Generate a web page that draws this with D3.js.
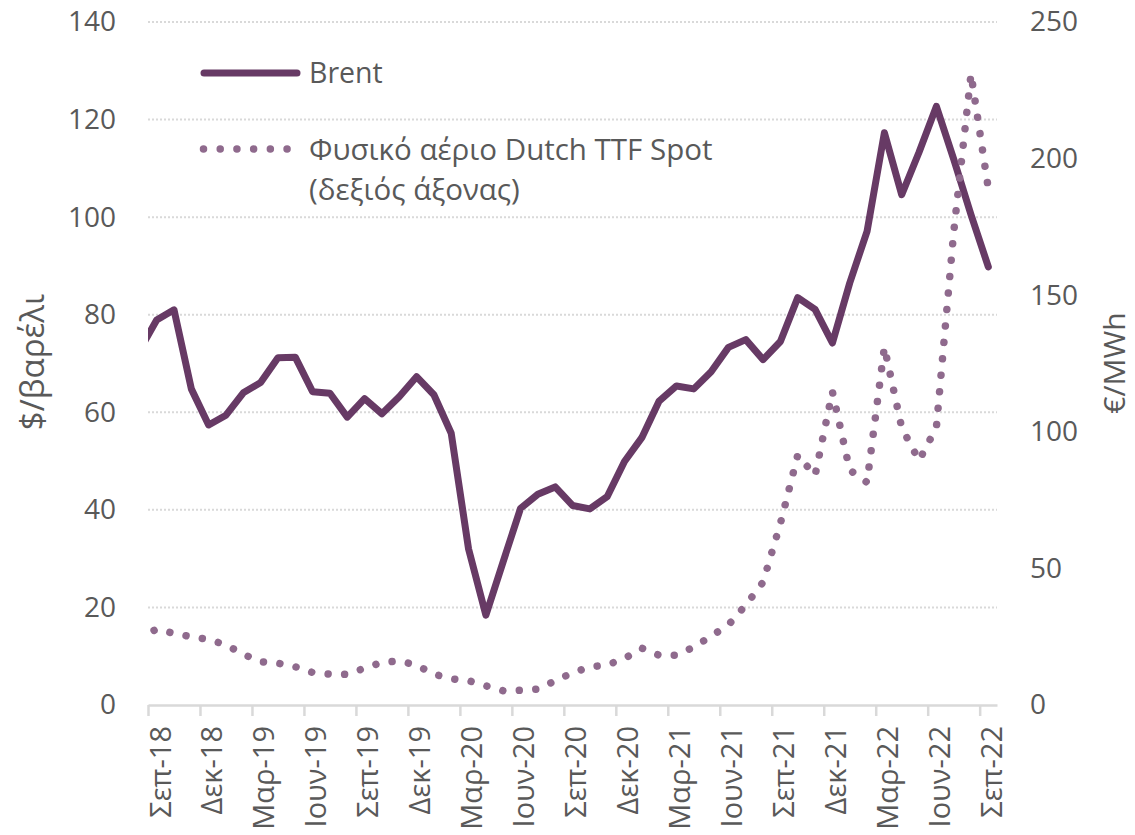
<!DOCTYPE html>
<html lang="el">
<head>
    <meta charset="UTF-8">
    <title>Brent και TTF</title>
    <style>
        body { margin: 0; background: #fff; }
        svg text { font-family: "Open Sans", "Noto Sans", sans-serif; fill: #595959; }
    </style>
</head>
<body>
<svg></svg>
<script src="https://d3js.org/d3.v7.min.js"></script>
<script>
    /* data: monthly averages, Aug-18 .. Sep-22 (first value sits just left of the plot) */
    const brent = [72.6, 78.9, 81.0, 64.8, 57.4,
        59.4, 64.0, 66.1, 71.2, 71.3, 64.2, 63.9, 59.0, 62.8, 59.7, 63.2, 67.3,
        63.6, 55.7, 32.0, 18.4, 29.4, 40.3, 43.2, 44.7, 40.9, 40.2, 42.7, 49.9,
        54.8, 62.3, 65.4, 64.8, 68.3, 73.3, 74.9, 70.8, 74.5, 83.5, 81.1, 74.2,
        86.5, 97.1, 117.3, 104.6, 113.3, 122.7, 111.9, 100.5, 89.8];
    const ttf = [24.6, 27.8, 26.2, 25.0, 24.0,
        22.0, 18.6, 15.8, 15.3, 14.0, 11.9, 11.3, 11.2, 13.5, 15.6, 16.1, 14.6,
        11.3, 9.6, 8.9, 7.0, 5.2, 5.4, 5.8, 8.9, 11.8, 13.9, 14.7, 17.0,
        20.8, 18.2, 18.2, 21.2, 25.2, 29.3, 36.6, 45.0, 66.5, 91.5, 84.0, 114.7,
        86.0, 81.5, 131.0, 101.5, 89.5, 101.5, 173.0, 231.0, 189.0];
    const tickLabels = ["Σεπ-18", "Δεκ-18", "Μαρ-19", "Ιουν-19", "Σεπ-19", "Δεκ-19",
        "Μαρ-20", "Ιουν-20", "Σεπ-20", "Δεκ-20", "Μαρ-21", "Ιουν-21",
        "Σεπ-21", "Δεκ-21", "Μαρ-22", "Ιουν-22", "Σεπ-22"];
    const leftTicks = [0, 20, 40, 60, 80, 100, 120, 140];
    const rightTicks = [0, 50, 100, 150, 200, 250];
    const seriesNames = ["Brent", "Φυσικό αέριο Dutch TTF Spot", "(δεξιός άξονας)"];

    /* layout */
    const width = 1135;
    const height = 835;
    const plotLeft = 148, plotRight = 997, plotTop = 22, plotBottom = 705;
    const firstOffset = -1; // index of first value relative to Sep-18
    const brentColor = "#673a65";
    const ttfColor = "#8f6a8d";
    const gridColor = "#d9d9d9";

    const svg = d3.select("svg")
        .attr("width", width)
        .attr("height", height);

    const x = d3.scaleLinear().domain([0, 49]).range([plotLeft, plotRight]);
    const yL = d3.scaleLinear().domain([0, 140]).range([plotBottom, plotTop]);
    const yR = d3.scaleLinear().domain([0, 250]).range([plotBottom, plotTop]);

    svg.append("clipPath").attr("id", "plot")
        .append("rect")
        .attr("x", plotLeft).attr("y", 0)
        .attr("width", plotRight - plotLeft).attr("height", height);

    /* gridlines */
    svg.selectAll(".grid").data(leftTicks.filter(d => d > 0)).enter().append("line")
        .attr("x1", plotLeft).attr("x2", plotRight)
        .attr("y1", d => yL(d)).attr("y2", d => yL(d))
        .attr("stroke", gridColor)
        .attr("stroke-width", 2)
        .attr("stroke-dasharray", "2,2");

    /* x axis */
    const xAxis = d3.axisBottom(x)
        .tickValues(tickLabels.map((d, i) => i * 3))
        .tickFormat((d, i) => tickLabels[i])
        .tickSize(11)
        .tickSizeOuter(0);
    const gx = svg.append("g")
        .attr("transform", `translate(0,${plotBottom})`)
        .call(xAxis);
    gx.select(".domain").attr("stroke", gridColor).attr("stroke-width", 2.5);
    gx.selectAll(".tick line").attr("stroke", gridColor).attr("stroke-width", 2.5);
    gx.selectAll(".tick text")
        .attr("transform", "rotate(-90)")
        .attr("text-anchor", "end")
        .attr("x", -21)
        .attr("y", 22)
        .attr("dy", 0)
        .style("font-size", "29px");

    /* left axis */
    const gyl = svg.append("g")
        .attr("transform", `translate(${plotLeft},0)`)
        .call(d3.axisLeft(yL).tickValues(leftTicks).tickSize(0).tickPadding(32));
    gyl.select(".domain").remove();
    gyl.selectAll("text").style("font-size", "28px");

    /* right axis */
    const gyr = svg.append("g")
        .attr("transform", `translate(${plotRight},0)`)
        .call(d3.axisRight(yR).tickValues(rightTicks).tickSize(0).tickPadding(33));
    gyr.select(".domain").remove();
    gyr.selectAll("text").style("font-size", "28px");

    /* axis titles */
    svg.append("text")
        .attr("transform", "translate(31,362) rotate(-90)")
        .attr("text-anchor", "middle")
        .attr("dominant-baseline", "central")
        .style("font-size", "33px")
        .text("$/βαρέλι");
    svg.append("text")
        .attr("transform", "translate(1113,363) rotate(-90)")
        .attr("text-anchor", "middle")
        .attr("dominant-baseline", "central")
        .style("font-size", "30px")
        .text("€/MWh");

    /* series */
    const lineL = d3.line()
        .x((d, i) => x(i + firstOffset + 0.5))
        .y(d => yL(d));
    const lineR = d3.line()
        .x((d, i) => x(i + firstOffset + 0.5))
        .y(d => yR(d));

    const plot = svg.append("g").attr("clip-path", "url(#plot)");
    plot.append("path")
        .datum(brent)
        .attr("d", lineL)
        .attr("fill", "none")
        .attr("stroke", brentColor)
        .attr("stroke-width", 7)
        .attr("stroke-linejoin", "round")
        .attr("stroke-linecap", "round");
    plot.append("path")
        .datum(ttf)
        .attr("d", lineR)
        .attr("fill", "none")
        .attr("stroke", ttfColor)
        .attr("stroke-width", 7.5)
        .attr("stroke-linecap", "round")
        .attr("stroke-dasharray", "0.01,16.5");

    /* legend */
    const legend = svg.append("g");
    legend.append("line")
        .attr("x1", 204).attr("x2", 297)
        .attr("y1", 73).attr("y2", 73)
        .attr("stroke", brentColor)
        .attr("stroke-width", 7)
        .attr("stroke-linecap", "round");
    legend.append("text")
        .attr("x", 309).attr("y", 83)
        .style("font-size", "28.5px")
        .text(seriesNames[0]);
    legend.append("line")
        .attr("x1", 203.5).attr("x2", 290)
        .attr("y1", 149).attr("y2", 149)
        .attr("stroke", ttfColor)
        .attr("stroke-width", 7.5)
        .attr("stroke-linecap", "round")
        .attr("stroke-dasharray", "0.01,16.7");
    legend.append("text")
        .attr("x", 309).attr("y", 160)
        .style("font-size", "29.5px")
        .text(seriesNames[1]);
    legend.append("text")
        .attr("x", 309).attr("y", 200)
        .style("font-size", "29.5px")
        .text(seriesNames[2]);
</script>
</body>
</html>
